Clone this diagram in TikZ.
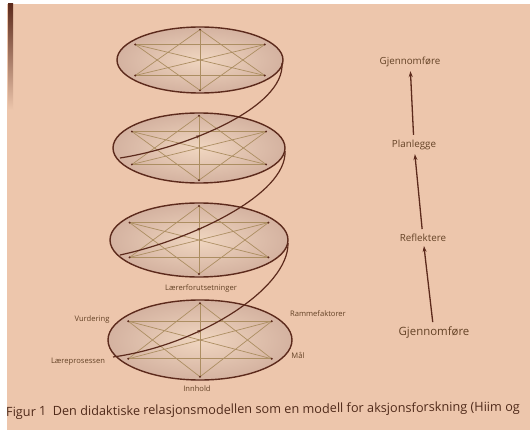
\documentclass[tikz,border=0pt]{standalone}
\usepackage{fontspec}
\setmainfont{Open Sans}
\usetikzlibrary{arrows.meta,decorations.markings}
\definecolor{paper}{RGB}{237,198,172}
\definecolor{ink}{RGB}{92,42,28}
\definecolor{starcol}{RGB}{172,142,98}
\definecolor{elout}{RGB}{212,178,160}
\definecolor{elin}{RGB}{240,214,192}
\definecolor{txt}{RGB}{100,66,38}
\definecolor{captxt}{RGB}{80,42,26}
\tikzset{
  ring/.style={draw=ink, line width=1.4pt},
  starline/.style={draw=starcol, line width=0.7pt},
  helix/.style={draw=ink, line width=1.2pt,
    postaction={decorate},
    decoration={markings, mark=at position 0.42 with {\arrow[ink]{Stealth[length=4pt,width=3pt]}}}},
  lbl/.style={text=txt, inner sep=1pt, font=\fontsize{7.6}{9}\selectfont},
  stage/.style={text=txt, inner sep=3pt, font=\fontsize{9.8}{11}\selectfont},
  arr/.style={draw=ink, line width=1.3pt, -{Stealth[length=6pt,width=4pt]}, shorten >=1pt, shorten <=2pt},
  captionstyle/.style={text=captxt, inner sep=0pt, font=\fontsize{12.7}{14}\selectfont}
}
\newcommand\relring[5]{% name, cx, cy, rx, ry
  \shade[inner color=elin, outer color=elout] (#2,#3) ellipse [x radius=#4pt, y radius=#5pt];
  \coordinate (#1t)  at ({#2},{#3-0.92*#5});
  \coordinate (#1b)  at ({#2},{#3+0.92*#5});
  \coordinate (#1ul) at ({#2-0.78*#4},{#3-0.47*#5});
  \coordinate (#1ur) at ({#2+0.78*#4},{#3-0.47*#5});
  \coordinate (#1ll) at ({#2-0.78*#4},{#3+0.47*#5});
  \coordinate (#1lr) at ({#2+0.78*#4},{#3+0.47*#5});
  \foreach \pp/\qq in {t/b,ul/ur,ll/lr,t/ll,t/lr,b/ul,b/ur,ul/lr,ur/ll}
    \draw[starline] (#1\pp) -- (#1\qq);
  \draw[ring] (#2,#3) ellipse [x radius=#4pt, y radius=#5pt];
  \foreach \pp in {t,b,ul,ur,ll,lr}
    \fill[ink] (#1\pp) circle [radius=1.1pt];
}
\begin{document}
\begin{tikzpicture}[x=1pt,y=-1pt]
\useasboundingbox (0,0) rectangle (530,430);
\fill[white] (0,0) rectangle (530,430);
\fill[paper] (7,4) rectangle (530,430);
\shade[top color=ink, bottom color=paper] (8,4) rectangle (13,110);

% four rings of the relational model
\relring{a}{200}{60}{83}{33}
\relring{b}{199}{148}{86}{35}
\relring{c}{199}{240}{89}{37}
\relring{d}{200}{340}{92}{40}

% helix connecting the rings
\coordinate (hd) at (113,357);
\coordinate (hc) at (120,255);
\coordinate (hb) at (120,158);
\coordinate (ec) at (288,243);
\coordinate (eb) at (285,151);
\coordinate (ea) at (282,63);
\draw[helix] (hd) .. controls (200,345) and (289,288) .. (ec);
\draw[helix] (hc) .. controls (190,240) and (287,195) .. (eb);
\draw[helix] (hb) .. controls (185,148) and (285,108) .. (ea);

% labels of the bottom ring
\node[lbl] (lf) at (201,289) {Lærerforutsetninger};
\node[lbl] (vu) at (92,320) {Vurdering};
\node[lbl] (lp) at (78,362) {Læreprosessen};
\node[lbl] (rf) at (318,314) {Rammefaktorer};
\node[lbl] (ma) at (298,355) {Mål};
\node[lbl] (in) at (197,389) {Innhold};

% action research cycle
\node[stage] (g2) at (410,62) {Gjennomføre};
\node[stage] (pl) at (414,145) {Planlegge};
\node[stage] (re) at (423,238) {Reflektere};
\node[stage, font=\fontsize{11.4}{13}\selectfont] (g1) at (434,333) {Gjennomføre};
\draw[arr] (g1) -- (re);
\draw[arr] (re) -- (pl);
\draw[arr] (pl) -- (g2);

% caption
\node[captionstyle, anchor=west, rotate=0.6] (caption) at (6,413) {Figur 1\enspace Den didaktiske relasjonsmodellen som en modell for aksjonsforskning (Hiim og};
\end{tikzpicture}
\end{document}
